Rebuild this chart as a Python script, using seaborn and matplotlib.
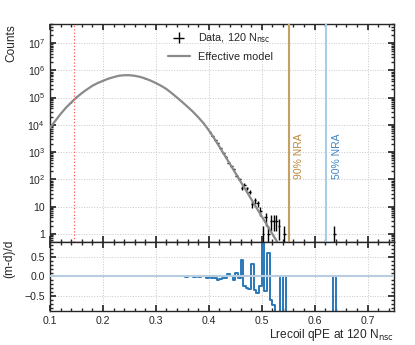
import numpy as np
import matplotlib
matplotlib.use("Agg")
import matplotlib.pyplot as plt
import matplotlib.ticker as mticker
import seaborn as sns

# effective model, counts per bin
model_x = [0.10, 0.11, 0.12, 0.13, 0.14, 0.15, 0.16, 0.17, 0.18, 0.19,
           0.20, 0.21, 0.22, 0.23, 0.24, 0.25, 0.26, 0.27, 0.28, 0.29,
           0.30, 0.31, 0.32, 0.33, 0.34, 0.35, 0.36, 0.37, 0.38, 0.39,
           0.40, 0.41, 0.42, 0.43, 0.44, 0.45, 0.46, 0.47, 0.48, 0.49,
           0.50, 0.51, 0.52, 0.53]
model_counts = [7800, 14000, 25000, 42000, 66000, 100000, 145000, 200000, 270000, 340000,
                410000, 490000, 560000, 630000, 660000, 660000, 630000, 575000, 500000, 420000,
                340000, 270000, 205000, 145000, 100000, 68000, 45700, 30200, 19000, 11500,
                6300, 3240, 1580, 760, 363, 174, 83, 40, 19, 9.1,
                4.4, 2.1, 1.0, 0.48]

# data, bulk region (coarse points) and tail (fine bins)
data_bulk_x = [0.10, 0.11, 0.12, 0.13, 0.14, 0.15, 0.16, 0.17, 0.18, 0.19,
               0.20, 0.21, 0.22, 0.23, 0.24, 0.25, 0.26, 0.27, 0.28, 0.29,
               0.30, 0.31, 0.32, 0.33, 0.34, 0.35, 0.36, 0.37, 0.38, 0.39]
data_bulk_counts = [7790, 14030, 24950, 42100, 65900, 100200, 144800, 200300, 269500, 340400,
                    409800, 490300, 559600, 630400, 659700, 660300, 629800, 575200, 499700, 420200,
                    339800, 270100, 205200, 144900, 100100, 67900, 45800, 30100, 19050, 11480]
data_tail_x = [0.4025, 0.4075, 0.4125, 0.4175, 0.4225, 0.4275, 0.4325, 0.4375, 0.4425, 0.4475,
               0.4525, 0.4575, 0.4625, 0.4675, 0.4725, 0.4775, 0.4825, 0.4875, 0.4925, 0.4975,
               0.5025, 0.5075, 0.5125, 0.5175, 0.5225, 0.5275, 0.5325, 0.5425, 0.6375]
data_tail_counts = [5265, 3920, 2830, 2070, 1400, 940, 664, 408, 299, 232,
                    134, 105, 49, 63, 47, 34, 12, 17, 13, 7,
                    1, 4, 1, 3, 3, 3, 2, 1, 1]

# (m-d)/d, non-zero bins (bin centres, width 0.005)
resid_x = [0.3525, 0.3575, 0.3625, 0.3725, 0.3775, 0.3825, 0.3875, 0.3975,
           0.4025, 0.4075, 0.4125, 0.4175, 0.4225, 0.4275, 0.4325, 0.4375, 0.4425, 0.4475,
           0.4525, 0.4575, 0.4625, 0.4675, 0.4725, 0.4775, 0.4825, 0.4875, 0.4925, 0.4975,
           0.5025, 0.5075, 0.5125, 0.5175, 0.5225, 0.5275, 0.5325, 0.5425, 0.6375]
resid_val = [0.01, -0.01, 0.015, -0.02, 0.01, -0.015, 0.02, -0.03,
             0.02, -0.03, -0.05, -0.08, -0.06, -0.03, -0.05, 0.07, 0.01, -0.1,
             0.08, -0.05, 0.41, -0.24, -0.3, -0.33, 0.33, -0.35, -0.43, -0.25,
             2.6, -0.38, 0.6, -0.6, -0.72, -0.95, -1.0, -1.0, -1.0]

cut_x = 0.146
nra_x = [0.551, 0.622]
nra_labels = ["90% NRA", "50% NRA"]
nra_line_colors = ["#c4a063", "#a9cde6"]
nra_text_colors = ["#b88a3a", "#3f86c4"]

sns.set_theme(style="ticks")
plt.rcParams.update({
    "font.family": ["Liberation Sans", "DejaVu Sans"],
    "mathtext.default": "regular",
    "xtick.direction": "in", "ytick.direction": "in",
    "xtick.top": True, "ytick.right": True,
    "xtick.major.size": 4.5, "ytick.major.size": 4.5,
    "xtick.minor.size": 2.2, "ytick.minor.size": 2.2,
    "xtick.labelsize": 7.6, "ytick.labelsize": 7.6,
    "axes.linewidth": 1.0,
})

fig = plt.figure(figsize=(4.15, 3.45), dpi=100)
ax = fig.add_axes([0.1205, 0.2986, 0.8289, 0.6318])
rax = fig.add_axes([0.1205, 0.0986, 0.8289, 0.2], sharex=ax)

# main panel
all_x = np.array(data_bulk_x + data_tail_x)
all_n = np.array(data_bulk_counts + data_tail_counts, dtype=float)
half = np.array([0.0] * len(data_bulk_x) + [0.0025] * len(data_tail_x))
ax.errorbar(all_x, all_n, yerr=np.sqrt(all_n), xerr=half, fmt="none",
            ecolor="black", elinewidth=1.0, label=r"Data, 120 N$_{\rm nsc}$", zorder=2)
sns.lineplot(x=model_x, y=model_counts, color="#8a8a8a", lw=1.6, ax=ax,
             label="Effective model", zorder=3)
ax.set_yscale("log")
ax.set_xlim(0.1, 0.75)
ax.set_ylim(0.5, 5e7)

ax.axvline(cut_x, color="#ff5a5a", lw=0.9, ls=":", zorder=4)
for xv, lab, lc, tc in zip(nra_x, nra_labels, nra_line_colors, nra_text_colors):
    ax.axvline(xv, color=lc, lw=1.5, zorder=4)
    ax.text(xv + 0.0195, 730, lab, rotation=90, color=tc, fontsize=7.5,
            ha="center", va="center")

ax.yaxis.set_major_locator(mticker.LogLocator(base=10, numticks=20))
ax.yaxis.set_minor_locator(mticker.LogLocator(base=10, subs=np.arange(2, 10), numticks=20))
ax.yaxis.set_minor_formatter(mticker.NullFormatter())
ax.yaxis.set_major_formatter(mticker.FuncFormatter(
    lambda v, p: "1" if np.isclose(v, 1) else "10" if np.isclose(v, 10)
    else f"$10^{{{int(round(np.log10(v)))}}}$"))
ax.xaxis.set_major_locator(mticker.MultipleLocator(0.1))
ax.xaxis.set_minor_locator(mticker.MultipleLocator(0.02))
ax.tick_params(axis="x", which="both", labelbottom=False)
ax.tick_params(which="both", top=True, right=True)
ax.grid(True, which="major", ls=":", color="#c8c8c8", lw=0.7)
ax.set_xlabel("")
ax.set_ylabel("Counts", fontsize=8.6, loc="top")
ax.yaxis.set_label_coords(-0.095, 1.0)
handles, labels = ax.get_legend_handles_labels()
order = [labels.index(r"Data, 120 N$_{\rm nsc}$"), labels.index("Effective model")]
ax.legend([handles[i] for i in order], [labels[i] for i in order],
          loc="upper left", bbox_to_anchor=(0.33, 0.985), frameon=False,
          fontsize=7.8, handlelength=2.0, labelspacing=0.6, borderaxespad=0)

# ratio panel
centers = np.round(np.arange(0.1025, 0.75, 0.005), 4)
resid_full = np.zeros(len(centers))
for xv, v in zip(resid_x, resid_val):
    resid_full[np.argmin(np.abs(centers - xv))] = v
sns.lineplot(x=centers, y=resid_full, color="#2a78b8", lw=1.4, ax=rax,
             drawstyle="steps-mid", estimator=None, zorder=2)
rax.axhline(0, color="#b9cde0", lw=1.5, zorder=3)
rax.set_ylim(-0.885, 0.885)
rax.set_yticks([-0.5, 0.0, 0.5])
rax.yaxis.set_minor_locator(mticker.MultipleLocator(0.1))
rax.yaxis.set_major_formatter(mticker.FuncFormatter(
    lambda v, p: f"{v:.1f}".replace("-", "\u2212")))
rax.xaxis.set_major_formatter(mticker.FuncFormatter(lambda v, p: f"{v:.1f}"))
rax.tick_params(which="both", top=True, right=True)
rax.grid(True, which="major", ls=":", color="#c8c8c8", lw=0.7)
rax.set_ylabel("(m-d)/d", fontsize=8.6)
rax.yaxis.set_label_coords(-0.1, 0.76)
rax.set_xlabel(r"Lrecoil qPE at 120 N$_{\rm nsc}$", fontsize=8.6, loc="right", labelpad=1)
rax.set_xlim(0.1, 0.75)

fig.savefig("out.png", dpi=100)
plt.close(fig)
